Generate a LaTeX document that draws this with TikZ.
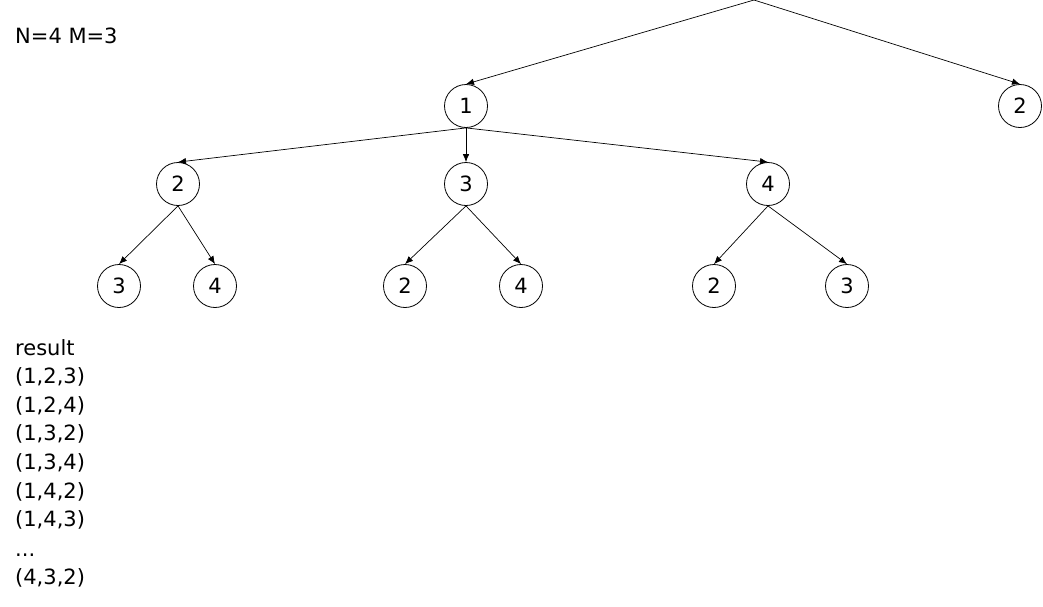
\documentclass[tikz,border=0pt]{standalone}
\usepackage{fontspec}
\setmainfont{DejaVu Sans}
\usetikzlibrary{arrows.meta}
\begin{document}
\begin{tikzpicture}[x=1pt,y=-1pt,
  nd/.style={circle,draw,line width=0.8pt,minimum size=43pt,inner sep=0pt,font=\fontsize{21}{24}\selectfont},
  ed/.style={line width=0.7pt,-{Latex[length=8pt,width=6.5pt]}},
  txt/.style={anchor=west,inner sep=0pt,font=\fontsize{21}{24}\selectfont}]
\useasboundingbox (0,0) rectangle (1043,606);
\coordinate (r) at (754,0);
\node[nd] (a1) at (466,106) {1};
\node[nd] (a2) at (1020,106) {2};
\node[nd] (b2) at (178,184) {2};
\node[nd] (b3) at (466,184) {3};
\node[nd] (b4) at (768,184) {4};
\node[nd] (c23) at (119,286) {3};
\node[nd] (c24) at (215,286) {4};
\node[nd] (c32) at (405,286) {2};
\node[nd] (c34) at (521,286) {4};
\node[nd] (c42) at (714,286) {2};
\node[nd] (c43) at (847,286) {3};
\draw[ed] (r) -- (a1.north);
\draw[ed] (r) -- (a2.north);
\draw[ed] (a1.south) -- (b2.north);
\draw[ed] (a1.south) -- (b3.north);
\draw[ed] (a1.south) -- (b4.north);
\draw[ed] (b2.south) -- (c23.north);
\draw[ed] (b2.south) -- (c24.north);
\draw[ed] (b3.south) -- (c32.north);
\draw[ed] (b3.south) -- (c34.north);
\draw[ed] (b4.south) -- (c42.north);
\draw[ed] (b4.south) -- (c43.north);
\node[txt] (t0) at (15,36) {N=4 M=3};
\node[txt] (t1) at (15,348) {result};
\node[txt] (t2) at (15,377) {(1,2,3)};
\node[txt] (t3) at (15,406) {(1,2,4)};
\node[txt] (t4) at (15,434) {(1,3,2)};
\node[txt] (t5) at (15,463) {(1,3,4)};
\node[txt] (t6) at (15,492) {(1,4,2)};
\node[txt] (t7) at (15,520) {(1,4,3)};
\node[txt,anchor=base west] (t8) at (15,556) {...};
\node[txt] (t9) at (15,578) {(4,3,2)};
\end{tikzpicture}
\end{document}
